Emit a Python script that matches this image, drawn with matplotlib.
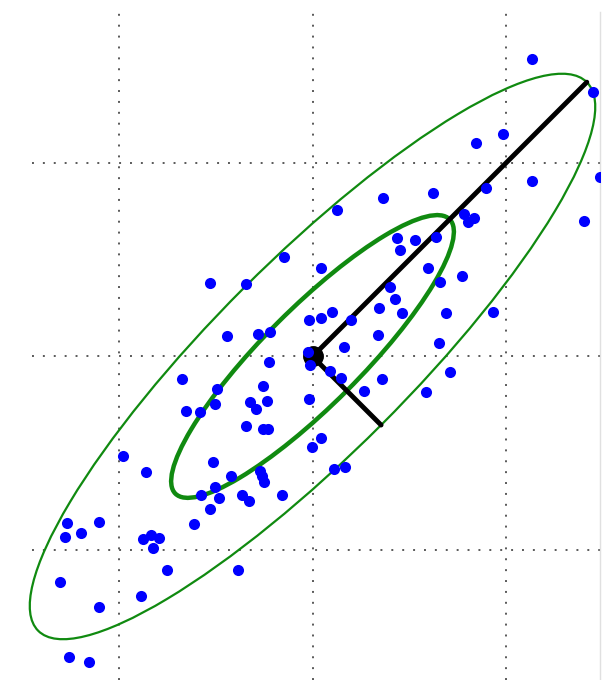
import numpy as np
import matplotlib
matplotlib.use("Agg")
import matplotlib.pyplot as plt
from matplotlib.patches import Ellipse

# sample points (grid spacing = 1 unit, mean at origin)
xs = [-0.148, -0.530, -0.343, -0.442, -0.282, -0.218, 1.130, 1.444, 0.980, 0.843,
      1.482, 1.130, 0.893, 0.620, 0.365, 0.125, 0.781, 0.831, 0.803, 1.401,
      0.437, 0.530, 0.635, 0.449, 0.042, 0.594, 0.772, 0.657, 0.401, 0.424,
      0.344, 0.461, 0.690, 0.932, 0.099, -0.016, 0.045, 0.197, 0.339, 0.654,
      -0.226, -0.674, -0.492, -0.255, -0.324, -0.233, -0.291, -0.503, -0.654, -0.581,
      -0.341, -0.254, -0.228, -0.977, -0.858, -0.513, -0.420, -0.272, -0.259, -0.250,
      -0.503, -0.573, -0.482, -0.365, -0.326, -0.159, -0.530, -0.612, -1.264, -1.099,
      -1.276, -1.195, -0.874, -0.834, -0.793, -0.822, -0.748, -0.386, -1.303, -0.886,
      -1.102, -1.257, -1.151, 0.164, -0.023, -0.013, 0.090, 0.147, 0.357, 0.709,
      0.263, 0.585, -0.016, 0.044, -0.004, 0.111, 0.168]
ys = [0.511, 0.380, 0.372, 0.107, 0.116, 0.128, 1.532, 1.365, 1.145, 1.102,
      0.927, 0.905, 0.870, 0.841, 0.819, 0.754, 0.736, 0.712, 0.695, 0.697,
      0.611, 0.602, 0.614, 0.551, 0.455, 0.455, 0.415, 0.384, 0.360, 0.296,
      0.248, 0.226, 0.226, 0.228, 0.231, 0.187, 0.197, 0.187, 0.113, 0.072,
      -0.028, -0.116, -0.168, -0.151, -0.235, -0.228, -0.269, -0.245, -0.279, -0.286,
      -0.358, -0.372, -0.372, -0.514, -0.595, -0.544, -0.618, -0.589, -0.614, -0.648,
      -0.673, -0.714, -0.729, -0.712, -0.746, -0.715, -0.788, -0.863, -0.857, -0.852,
      -0.932, -0.911, -0.939, -0.919, -0.936, -0.986, -1.102, -1.099, -1.162, -1.236,
      -1.293, -1.547, -1.575, 0.051, 0.025, -0.045, -0.073, -0.109, -0.117, -0.078,
      -0.179, -0.185, -0.220, -0.418, -0.465, -0.578, -0.568]

mean = (0.0, 0.0)
sigmas = [1.0, 0.25]      # std along principal axes
angle = 45.0              # degrees
grid_ticks = [-1, 0, 1]

fig = plt.figure(figsize=(6.02, 6.8), dpi=100)
ax = fig.add_axes([32 / 602, 0, 568 / 602, 668 / 680])

# 1 sigma and 2 sigma ellipses
ax.add_patch(Ellipse(mean, 2 * sigmas[0], 2 * sigmas[1], angle=angle,
                     fill=False, color="#108a10", lw=3.2, zorder=2, clip_on=False))
ax.add_patch(Ellipse(mean, 4 * sigmas[0], 4 * sigmas[1], angle=angle,
                     fill=False, color="#108a10", lw=1.6, zorder=2, clip_on=False))

# principal axes
th = np.deg2rad(angle)
for s, d in zip(sigmas, [th, th - np.pi / 2]):
    ax.plot([mean[0], mean[0] + 2 * s * np.cos(d)],
            [mean[1], mean[1] + 2 * s * np.sin(d)],
            color="black", lw=3.5, solid_capstyle="round", zorder=3)
ax.plot(mean[0], mean[1], "o", color="black", ms=14, zorder=3)

ax.plot(xs, ys, "o", color="blue", ms=8, mec="none", zorder=4)

ax.set_xlim(-1.446, 1.482)
ax.set_ylim(-1.668, 1.776)
ax.set_aspect("equal")
ax.set_xticks(grid_ticks)
ax.set_yticks(grid_ticks)
ax.tick_params(length=0, labelbottom=False, labelleft=False)
ax.grid(True, color="0.35", lw=1.4, linestyle=(0, (1, 4.6)))
for side in ["left", "top", "bottom"]:
    ax.spines[side].set_visible(False)
ax.spines["right"].set_color("0.88")
ax.spines["right"].set_linewidth(1.0)

fig.savefig("out.png", dpi=100)
